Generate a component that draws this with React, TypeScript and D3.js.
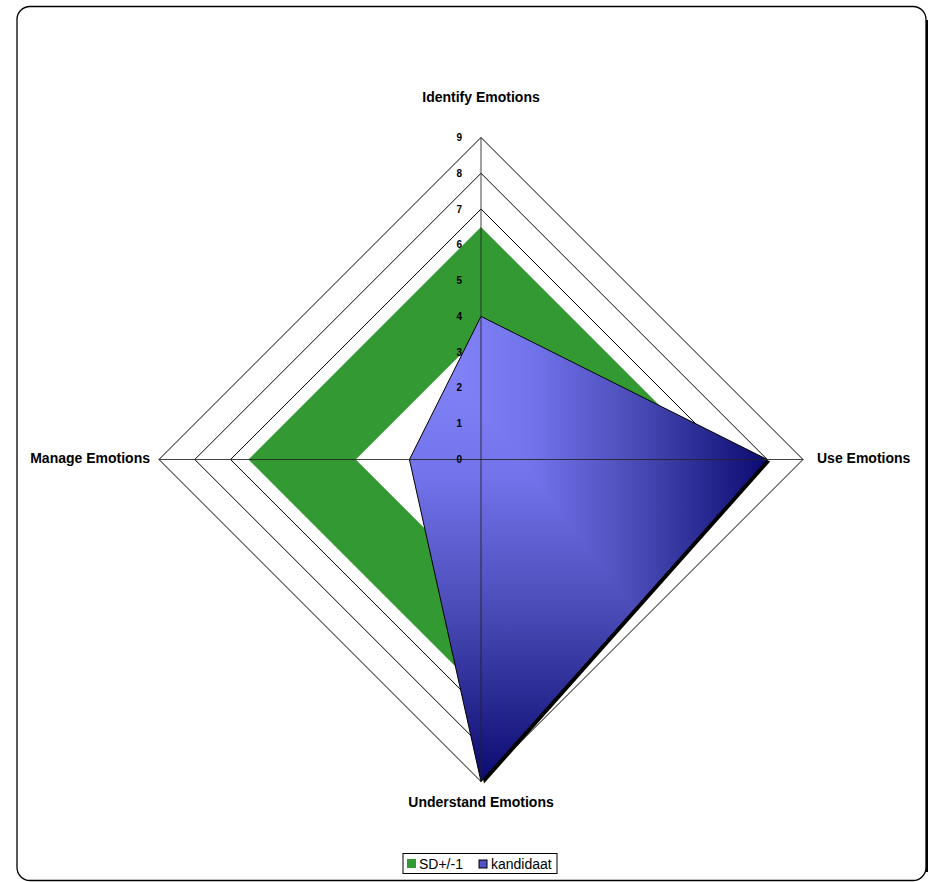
import React from "react";
import * as d3 from "d3";

const axes = ["Identify Emotions", "Use Emotions", "Understand Emotions", "Manage Emotions"];
const sdUpper = [6.5, 6.5, 6.5, 6.5];
const sdLower = [3.5, 3.5, 3.5, 3.5];
const kandidaat = [4, 8, 9, 2];
const ticks = [0, 1, 2, 3, 4, 5, 6, 7, 8, 9];

const W = 931, H = 882;
const cx = 481, cy = 459.5;
const FONT = "'Liberation Sans', Arial, sans-serif";

export default function App() {
  const r = d3.scaleLinear().domain([0, 9]).range([0, 322]);
  const angle = (i: number) => (i * Math.PI * 2) / axes.length;
  const pt = (i: number, v: number): [number, number] => [
    cx + r(v) * Math.sin(angle(i)),
    cy - r(v) * Math.cos(angle(i)),
  ];
  const line = d3.line<number>().x((v, i) => pt(i, v)[0]).y((v, i) => pt(i, v)[1]).curve(d3.curveLinearClosed);
  const ring = (v: number) => line(axes.map(() => v)) as string;

  // bounding box of candidate polygon for the "from corner" gradient
  const kp = kandidaat.map((v, i) => pt(i, v));
  const x0 = d3.min(kp, (p) => p[0]) as number;
  const x1 = d3.max(kp, (p) => p[0]) as number;
  const y0 = d3.min(kp, (p) => p[1]) as number;
  const y1 = d3.max(kp, (p) => p[1]) as number;
  const kPath = line(kandidaat) as string;

  const stops = [
    { o: 0, c: "#8a8aff" },
    { o: 0.35, c: "#7272ea" },
    { o: 0.65, c: "#4848b4" },
    { o: 1, c: "#0a0a70" },
  ];

  const labelPos = [
    { x: cx, y: 102, anchor: "middle" },
    { x: 817, y: 463, anchor: "start" },
    { x: cx, y: 807, anchor: "middle" },
    { x: 150, y: 463, anchor: "end" },
  ];

  return (
    <svg width={W} height={H} style={{ position: "absolute", left: 0, top: 0, background: "#fff" }}>
      <defs>
        <linearGradient id="gH" gradientUnits="userSpaceOnUse" x1={x0} y1={0} x2={x1} y2={0}>
          {stops.map((s) => <stop key={s.o} offset={s.o} stopColor={s.c} />)}
        </linearGradient>
        <linearGradient id="gV" gradientUnits="userSpaceOnUse" x1={0} y1={y0} x2={0} y2={y1}>
          {stops.map((s) => <stop key={s.o} offset={s.o} stopColor={s.c} />)}
        </linearGradient>
        <clipPath id="clipH">
          <polygon points={`${x0},${y0} ${x1 + 5},${y0} ${x1 + 5},${y1 + 5}`} />
        </clipPath>
      </defs>
      <rect x={17} y={6.5} width={909} height={874} rx={13} fill="#fff" stroke="#000" strokeWidth={1.3} />
      <line x1={927} y1={20} x2={927} y2={872} stroke="#000" strokeWidth={2} />
      {ticks.slice(1).map((t) => (
        <path key={t} d={ring(t)} fill="none" stroke="#000" strokeWidth={1} />
      ))}
      <path d={line(sdUpper) as string} fill="#339933" stroke="none" />
      <path d={line(sdLower) as string} fill="#ffffff" stroke="none" />
      <path d={kPath} fill="#000" transform="translate(3,2)" />
      <path d={kPath} fill="url(#gV)" />
      <path d={kPath} fill="url(#gH)" clipPath="url(#clipH)" />
      <path d={kPath} fill="none" stroke="#000" strokeWidth={1} />
      {axes.map((a, i) => {
        const [x, y] = pt(i, 9);
        return <line key={a} x1={cx} y1={cy} x2={x} y2={y} stroke="#222" strokeWidth={1} strokeOpacity={0.85} />;
      })}
      {ticks.map((t) => (
        <text key={t} x={462} y={cy - r(t) + 3.5} textAnchor="end" fontFamily={FONT} fontWeight="bold" fontSize={10}>
          {t}
        </text>
      ))}
      {axes.map((a, i) => (
        <text key={a} x={labelPos[i].x} y={labelPos[i].y} textAnchor={labelPos[i].anchor as any} fontFamily={FONT} fontWeight="bold" fontSize={14}>
          {a}
        </text>
      ))}
      <g fontFamily={FONT} fontSize={14}>
        <rect x={403} y={853.5} width={154} height={20} fill="#fff" stroke="#000" strokeWidth={1} />
        <rect x={407} y={859} width={9} height={9} fill="#339933" />
        <text x={419} y={869}>SD+/-1</text>
        <rect x={479} y={860} width={8} height={8} fill="#5252c4" stroke="#000" strokeWidth={1} />
        <text x={491} y={869}>kandidaat</text>
      </g>
    </svg>
  );
}
